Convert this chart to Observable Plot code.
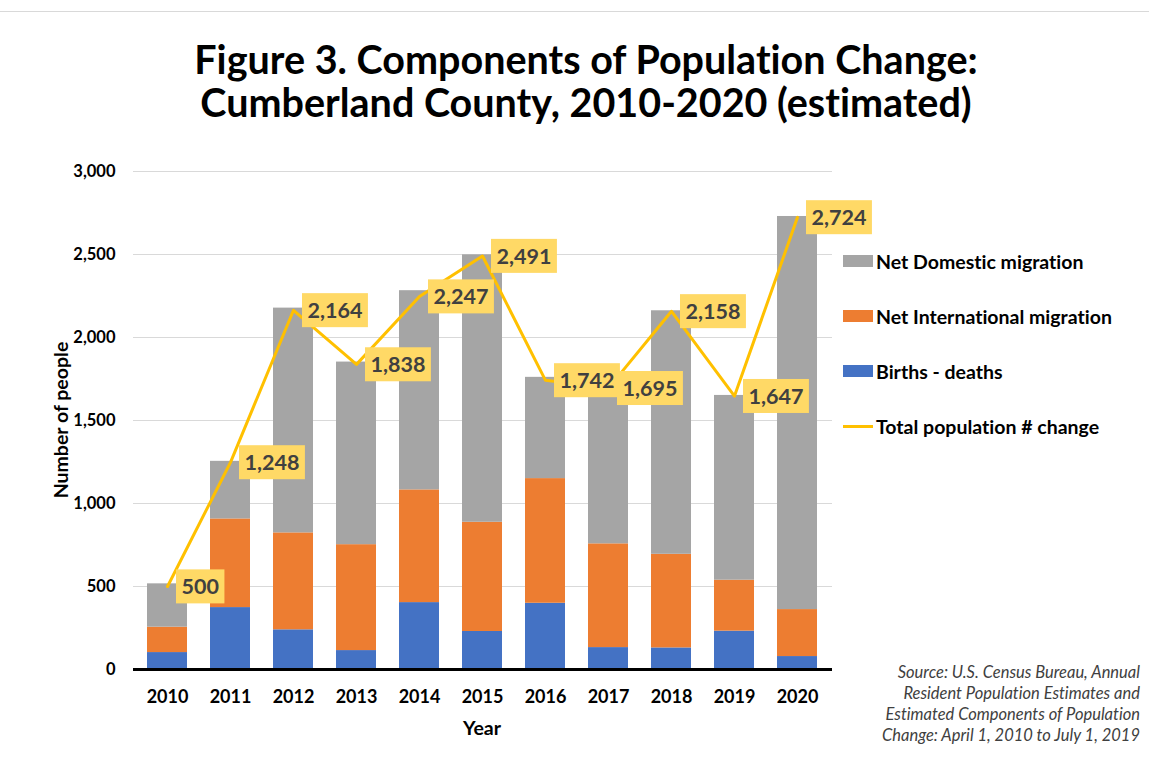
<!DOCTYPE html>
<html><head><meta charset="utf-8">
<script src="https://cdn.jsdelivr.net/npm/d3@7"></script>
<script src="https://cdn.jsdelivr.net/npm/@observablehq/plot@0.6"></script>
<style>
body{margin:0;background:#fff;font-family:Lato,"DejaVu Sans",sans-serif;font-variant-ligatures:none;}
#wrap{position:relative;width:1149px;height:765px;overflow:hidden;background:#fff;}
#topline{position:absolute;left:0;top:11px;width:1149px;height:1px;background:#d9d9d9;}
#title{position:absolute;left:0;width:1172px;top:37px;text-align:center;font-weight:bold;font-size:39.5px;line-height:43px;color:#000;}
#chart{position:absolute;left:0;top:150px;}
#chart svg text{font-variant-ligatures:none;}
#ylab{position:absolute;left:60px;top:420px;transform:translate(-50%,-50%) rotate(-90deg);font-weight:bold;font-size:19.5px;white-space:nowrap;color:#000;}
#xlab{position:absolute;left:482px;top:727px;transform:translate(-50%,-50%);font-weight:bold;font-size:19.5px;color:#000;}
.leg{position:absolute;left:843px;height:22px;display:flex;align-items:center;font-weight:bold;font-size:19.5px;color:#000;white-space:nowrap;transform:translateY(-50%);}
.sw{width:30px;height:12px;margin-right:3px;}
.swl{width:30px;height:3px;margin-right:3px;}
#source{position:absolute;right:9px;top:662px;text-align:right;font-style:italic;font-size:16.5px;line-height:21px;color:#404040;}
</style></head><body>
<div id="wrap">
 <div id="topline"></div>
 <div id="title">Figure 3. Components of Population Change:<br>Cumberland County, 2010-2020 (estimated)</div>
 <div id="chart"></div>
 <div id="ylab">Number of people</div>
 <div id="xlab">Year</div>
 <div id="legend"></div>
 <div id="source">Source: U.S. Census Bureau, Annual<br>Resident Population Estimates and<br>Estimated Components of Population<br>Change: April 1, 2010 to July 1, 2019</div>
</div>
<script>
const years = ["2010","2011","2012","2013","2014","2015","2016","2017","2018","2019","2020"];
const birthsDeaths = [102, 373, 239, 114, 403, 229, 399, 132, 130, 231, 78];
const netInternational = [153, 534, 584, 638, 679, 658, 751, 625, 564, 307, 283];
const netDomestic = [261, 347, 1354, 1100, 1200, 1611, 610, 943, 1467, 1113, 2368];
const totalChange = [500, 1248, 2164, 1838, 2247, 2491, 1742, 1695, 2158, 1647, 2724];
const seriesNames = ["Births - deaths", "Net International migration", "Net Domestic migration"];
const seriesColors = ["#4472C4", "#ED7D31", "#A5A5A5"];
const lineName = "Total population # change";
const lineColor = "#FFC000";
const labelBg = "#FFD966";
const yTicks = [0, 500, 1000, 1500, 2000, 2500, 3000];

const seriesValues = [birthsDeaths, netInternational, netDomestic];
const stacked = [];
seriesNames.forEach((s, i) => years.forEach((y, j) => stacked.push({year: y, series: s, value: seriesValues[i][j]})));
const totals = years.map((y, j) => ({year: y, total: totalChange[j]}));

const plot = Plot.plot({
  width: 1149,
  height: 600,
  marginTop: 21,
  marginBottom: 81,
  marginLeft: 133,
  marginRight: 317,
  style: {fontFamily: "Lato, 'DejaVu Sans', sans-serif", background: "#fff", color: "#000"},
  x: {type: "band", domain: years, paddingInner: 0.36, paddingOuter: 0.18},
  y: {domain: [0, 3000]},
  color: {domain: seriesNames, range: seriesColors},
  marks: [
    Plot.ruleY(yTicks, {stroke: "#d9d9d9", strokeWidth: 1}),
    Plot.barY(stacked, {x: "year", y: "value", fill: "series", order: seriesNames}),
    Plot.ruleY([0], {stroke: "#000", strokeWidth: 3}),
    Plot.axisX({tickSize: 0, tickPadding: 21, fontSize: 18, fontWeight: "bold", label: null, fill: "#000"}),
    Plot.axisY({ticks: yTicks, tickFormat: d3.format(","), tickSize: 0, tickPadding: 18, fontSize: 16.5, fontWeight: "bold", label: null, fill: "#000"}),
    Plot.line(totals, {x: "year", y: "total", stroke: lineColor, strokeWidth: 3}),
    Plot.text(totals, {x: "year", y: "total", text: d => d3.format(",")(d.total), dx: 14, dy: 1, textAnchor: "start", fontSize: 21.5, fontWeight: "bold", fill: "#404040"})
  ]
});
document.getElementById("chart").append(plot);

// label boxes behind the data labels
const tg = plot.querySelector('g[aria-label="text"]');
if (tg) {
  const texts = [...tg.querySelectorAll("text")];
  const rects = texts.map(t => {
    const b = t.getBBox();
    const r = document.createElementNS("http://www.w3.org/2000/svg", "rect");
    r.setAttribute("x", b.x - 5.5);
    r.setAttribute("y", b.y - 4);
    r.setAttribute("width", b.width + 11);
    r.setAttribute("height", b.height + 8);
    r.setAttribute("fill", labelBg);
    const tr = t.getAttribute("transform");
    if (tr) r.setAttribute("transform", tr);
    return r;
  });
  rects.reverse().forEach(r => tg.insertBefore(r, tg.firstChild));
}

// legend
const leg = document.getElementById("legend");
const legRows = [
  {name: seriesNames[2], color: seriesColors[2], line: false},
  {name: seriesNames[1], color: seriesColors[1], line: false},
  {name: seriesNames[0], color: seriesColors[0], line: false},
  {name: lineName, color: lineColor, line: true}
];
const legY = [261, 316, 371, 426];
legRows.forEach((r, i) => {
  const d = document.createElement("div");
  d.className = "leg";
  d.style.top = legY[i] + "px";
  const s = document.createElement("span");
  s.className = r.line ? "swl" : "sw";
  s.style.background = r.color;
  d.append(s);
  d.append(document.createTextNode(r.name));
  leg.append(d);
});
</script>
</body></html>
